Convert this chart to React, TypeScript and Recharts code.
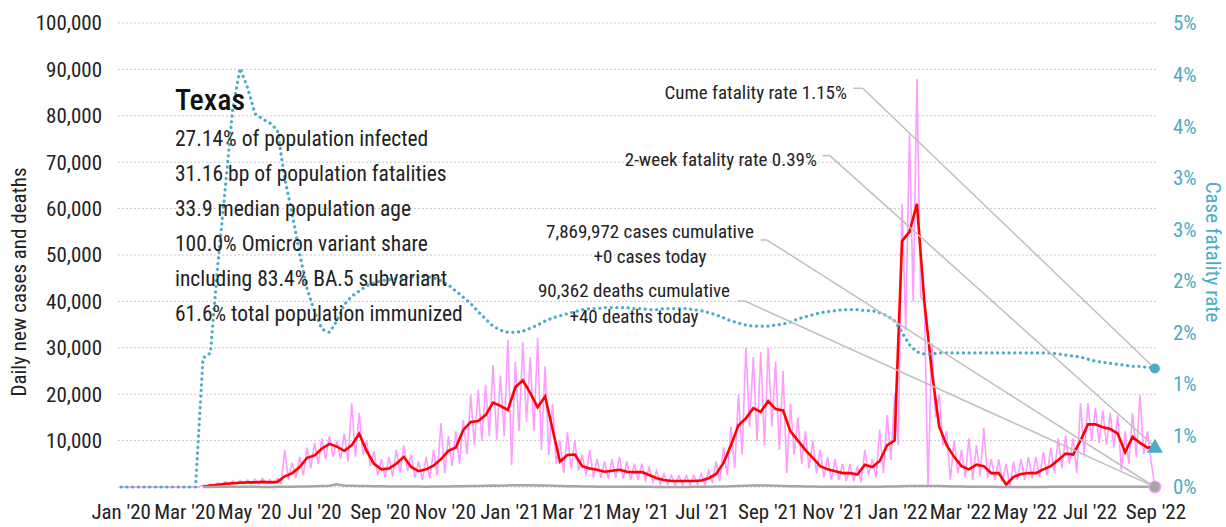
import { CartesianGrid, Line, LineChart, ReferenceDot, ReferenceLine, XAxis, YAxis } from "recharts";

const FONT = "'Liberation Sans Narrow', 'Arial Narrow', 'Roboto Condensed', 'DejaVu Sans Condensed', sans-serif";
const PINK = "#ff9cff";
const RED = "#ff0000";
const GREY = "#a6a6a6";
const TEAL = "#4bacc6";
const LINK = "#bfbfbf";

// days since Jan 1 2020
const xTickDays = [0, 60, 121, 182, 244, 305, 366, 425, 486, 547, 609, 670, 731, 790, 851, 912, 974];
const xTickLabels = [
    "Jan '20", "Mar '20", "May '20", "Jul '20", "Sep '20", "Nov '20",
    "Jan '21", "Mar '21", "May '21", "Jul '21", "Sep '21", "Nov '21",
    "Jan '22", "Mar '22", "May '22", "Jul '22", "Sep '22",
];
const caseTicks = [0, 10000, 20000, 30000, 40000, 50000, 60000, 70000, 80000, 90000, 100000];
const cfrTicks = [0, 0.5, 1, 1.5, 2, 2.5, 3, 3.5, 4, 4.5];

// case fatality rate (%), one value per week from Jan 1 2020
const cfrWeekly = [
    0, 0, 0, 0, 0, 0, 0, 0, 0, 0, 0,
    1.25, 1.3, 2.16, 2.9, 3.67, 4.06, 3.87, 3.62, 3.57, 3.53,
    3.46, 2.99, 2.65, 2.26, 1.92, 1.7, 1.53, 1.5, 1.61, 1.77,
    1.85, 1.9, 1.95, 1.98, 2.0, 2.01, 2.02, 2.03, 2.04, 2.04,
    2.04, 2.03, 2.0, 1.96, 1.9, 1.84, 1.78, 1.7, 1.63, 1.56,
    1.52, 1.5, 1.5, 1.51, 1.54, 1.57, 1.61, 1.64, 1.66, 1.68,
    1.7, 1.72, 1.73, 1.73, 1.74, 1.74, 1.74, 1.74, 1.73, 1.73,
    1.72, 1.72, 1.73, 1.73, 1.73, 1.73, 1.72, 1.71, 1.69, 1.67,
    1.64, 1.61, 1.59, 1.57, 1.56, 1.56, 1.56, 1.57, 1.58, 1.6,
    1.63, 1.65, 1.67, 1.69, 1.7, 1.71, 1.72, 1.72, 1.72, 1.71,
    1.71, 1.69, 1.66, 1.61, 1.5, 1.38, 1.31, 1.29, 1.29, 1.3,
    1.3, 1.3, 1.3, 1.3, 1.3, 1.3, 1.3, 1.3, 1.3, 1.3,
    1.3, 1.3, 1.3, 1.3, 1.3, 1.29, 1.28, 1.27, 1.26, 1.24,
    1.22, 1.21, 1.2, 1.19, 1.18, 1.17, 1.17, 1.16, 1.16, 1.15,
];

// 7-day average of new cases, weekly, starting at week 11
const avgStartWeek = 11;
const avgCasesWeekly = [
    100, 300, 500, 700, 800, 900, 1000, 1000, 1100, 1000, 1100,
    2300, 3000, 4300, 6300, 6800, 8300, 9300, 8700, 7800, 9000,
    11500, 7800, 5000, 3800, 4000, 5000, 6500, 4300, 3400, 3800,
    4600, 6000, 7800, 8500, 12300, 14000, 14200, 15500, 18200, 17500,
    16600, 21500, 23000, 20300, 17200, 19500, 12500, 5500, 6900, 7000,
    4500, 4000, 3700, 3300, 3500, 3700, 3300, 3200, 3200, 2600,
    1900, 1500, 1300, 1300, 1300, 1300, 1400, 1900, 2800, 5200,
    9000, 13300, 14800, 17000, 16200, 18500, 16800, 16500, 12000, 10000,
    8000, 6300, 4500, 3800, 3400, 3000, 3000, 2700, 4800, 4300,
    5600, 9000, 10000, 53000, 55000, 61000, 40000, 25000, 13000, 9000,
    6500, 4500, 3800, 4800, 4500, 3000, 3000, 500, 2200, 2800,
    3000, 3000, 3800, 4500, 5800, 7200, 7000, 10000, 13500, 13500,
    12900, 12500, 11500, 7500, 10800, 9500, 8500, 8600,
];

// daily deaths, weekly readings, starting at week 11
const deathsWeekly = [
    5, 15, 30, 40, 45, 40, 35, 30, 25, 25, 30,
    40, 60, 90, 130, 160, 200, 250, 600, 280, 250,
    220, 200, 180, 150, 130, 110, 100, 90, 90, 80,
    90, 100, 120, 150, 170, 200, 220, 250, 300, 280,
    350, 380, 400, 380, 350, 300, 250, 200, 180, 150,
    120, 100, 80, 70, 60, 50, 45, 40, 35, 30,
    25, 20, 20, 20, 25, 30, 40, 60, 90, 130,
    180, 240, 280, 300, 320, 300, 260, 220, 180, 140,
    110, 90, 70, 60, 50, 45, 45, 50, 60, 70,
    80, 90, 120, 150, 200, 220, 240, 230, 200, 160,
    120, 90, 70, 50, 40, 30, 25, 20, 20, 20,
    20, 20, 25, 30, 35, 40, 45, 50, 55, 55,
    55, 50, 50, 45, 45, 40, 40, 40,
];

// daily new cases, every 3.5 days from Jan 1 2020
const dailyCases = [
    0, 0, 0, 0, 0, 0, 0, 0, 0, 0, 0, 0, 0, 0, 0, 0, 0, 0, 0, 0, 0, 0,
    400, 100, 600, 200, 900, 300, 1100, 500, 1300, 600, 1400, 700, 1500, 700,
    1700, 600, 1800, 800, 1600, 700, 1900, 800, 8000, 1500, 5200, 2000, 6500, 2500,
    8500, 4000, 9500, 5000, 10500, 6000, 11000, 6500, 10000, 6000, 11500, 5500,
    18100, 6500, 16000, 7000, 10000, 4500, 7700, 2500, 6000, 2000, 6500, 2200,
    8000, 3000, 9000, 3500, 7000, 2000, 5500, 1500, 6500, 1800, 8000, 2500,
    13800, 3000, 11000, 4500, 12000, 5000, 14400, 7000, 19800, 9000, 21000, 10000,
    22000, 11000, 26300, 10100, 24000, 11000, 31700, 4700, 27000, 12000, 31200, 14000,
    28000, 12000, 32100, 8000, 26000, 6900, 18000, 5000, 10000, 3000, 11800, 4000,
    10000, 3500, 7000, 2500, 8000, 2000, 6000, 2000, 5500, 1800, 6000, 2000,
    6500, 1800, 5500, 1500, 5000, 1500, 5000, 1500, 4200, 1000, 3500, 600,
    2800, 500, 2500, 400, 2400, 500, 2500, 400, 2500, 500, 2800, 500,
    3500, 800, 5500, 1200, 8500, 2500, 13000, 4000, 20000, 7000, 30000, 13000,
    28000, 10000, 29100, 9000, 30000, 13000, 27000, 8000, 25000, 3000, 18000, 7000,
    15000, 5000, 12000, 4000, 10000, 3000, 8000, 2000, 6500, 1500, 6000, 1500,
    5000, 1300, 5000, 1200, 4500, 1000, 8000, 2500, 6000, 2000, 12300, 3000,
    15500, 5800, 20000, 9000, 61000, 34000, 76000, 40000, 88000, 41000, 40000, 0,
    31000, 15000, 20000, 9000, 12000, 1500, 10000, 3000, 8000, 2000, 10500, 1500,
    9000, 2500, 12700, 2000, 6000, 1500, 6000, 1200, 5000, 0, 5500, 1500,
    6000, 1500, 6500, 1800, 6500, 2000, 7500, 2500, 8500, 3000, 10500, 4000,
    11000, 5000, 10500, 3000, 18100, 7000, 18100, 10000, 17000, 9500, 16500, 9000,
    16000, 8500, 15500, 3700, 12000, 5000, 15900, 6500, 19800, 7000, 12000, 5500,
    0,
];

const lastDay = 973;
const cumeCfr = 1.15;
const twoWeekCfr = 0.39;
const casesToday = 0;
const deathsToday = 40;

const statLines = [
    "27.14% of population infected",
    "31.16 bp of population fatalities",
    "33.9 median population age",
    "100.0% Omicron variant share",
    "including 83.4% BA.5 subvariant",
    "61.6% total population immunized",
];

const cfrData = cfrWeekly.map((v, k) => ({ day: k * 7, v }));
const avgData = avgCasesWeekly.map((v, i) => ({ day: (i + avgStartWeek) * 7, v }));
const deathsData = deathsWeekly.map((v, i) => ({ day: (i + avgStartWeek) * 7, v }));
const dailyData = dailyCases.map((v, j) => ({ day: j * 3.5, v }));

// annotation leader lines: label end -> short flat run -> marker
const links = [
    { axis: "cfr", x0: 689, x1: 698, y: 3.867, to: cumeCfr },
    { axis: "cfr", x0: 660, x1: 667, y: 3.214, to: twoWeekCfr },
    { axis: "left", x0: 602, x1: 608, y: 53230, to: casesToday },
    { axis: "left", x0: 580, x1: 587, y: 40080, to: deathsToday },
];

const Triangle = (p: any) => (
    <polygon points={`${p.cx},${p.cy - 8} ${p.cx + 8},${p.cy + 6} ${p.cx - 8},${p.cy + 6}`} fill={TEAL} />
);

export default function App() {
    const tickStyle = { fill: "#222", fontSize: 21, fontFamily: FONT };
    const note = { fontSize: 19, fill: "#222" };
    return (
        <div style={{ position: "absolute", left: 0, top: 0, width: 1226, height: 527, background: "#fff" }}>
            <LineChart width={1226} height={527} margin={{ top: 23, right: 0, bottom: 0, left: 0 }}>
                <CartesianGrid yAxisId="left" vertical={false} stroke="#c8c8c8" strokeDasharray="2 2" />
                <XAxis
                    dataKey="day"
                    type="number"
                    scale="linear"
                    domain={[-3, 975]}
                    allowDataOverflow
                    ticks={xTickDays}
                    tickFormatter={(v) => xTickLabels[xTickDays.indexOf(v)]}
                    axisLine={false}
                    tickLine={false}
                    tickSize={0}
                    tickMargin={17}
                    height={40}
                    interval={0}
                    tick={tickStyle}
                />
                <YAxis
                    yAxisId="left"
                    domain={[0, 100000]}
                    ticks={caseTicks}
                    tickFormatter={(v) => (v === 0 ? "" : Number(v).toLocaleString("en-US"))}
                    axisLine={false}
                    tickLine={false}
                    tickSize={0}
                    tickMargin={16}
                    width={118}
                    interval={0}
                    tick={tickStyle}
                />
                <YAxis
                    yAxisId="cfr"
                    orientation="right"
                    domain={[0, 4.5]}
                    ticks={cfrTicks}
                    tickFormatter={(v) => `${Number(v).toFixed(0)}%`}
                    axisLine={false}
                    tickLine={false}
                    tickSize={0}
                    tickMargin={16}
                    width={69}
                    interval={0}
                    tick={{ ...tickStyle, fill: TEAL }}
                />
                <Line yAxisId="left" data={dailyData} dataKey="v" type="linear" stroke={PINK} strokeWidth={1.6} dot={false} isAnimationActive={false} />
                <Line yAxisId="left" data={avgData} dataKey="v" type="linear" stroke={RED} strokeWidth={2.6} dot={false} isAnimationActive={false} />
                <Line yAxisId="left" data={deathsData} dataKey="v" type="linear" stroke={GREY} strokeWidth={2.5} dot={false} isAnimationActive={false} />
                <Line
                    yAxisId="cfr"
                    data={cfrData}
                    dataKey="v"
                    type="linear"
                    stroke={TEAL}
                    strokeWidth={3.2}
                    strokeDasharray="0.1 5.6"
                    strokeLinecap="round"
                    dot={false}
                    isAnimationActive={false}
                />
                {links.map((l, i) => (
                    <ReferenceLine
                        key={`h${i}`}
                        yAxisId={l.axis}
                        segment={[{ x: l.x0, y: l.y }, { x: l.x1, y: l.y }]}
                        stroke={LINK}
                        strokeWidth={1.5}
                    />
                ))}
                {links.map((l, i) => (
                    <ReferenceLine
                        key={`d${i}`}
                        yAxisId={l.axis}
                        segment={[{ x: l.x1, y: l.y }, { x: lastDay, y: l.to }]}
                        stroke={LINK}
                        strokeWidth={1.5}
                    />
                ))}
                <ReferenceDot yAxisId="cfr" x={lastDay} y={cumeCfr} r={5} fill={TEAL} stroke="none" />
                <ReferenceDot yAxisId="cfr" x={lastDay} y={twoWeekCfr} shape={Triangle} />
                <ReferenceDot yAxisId="left" x={lastDay} y={casesToday} r={6.5} fill={PINK} stroke="none" />
                <ReferenceDot yAxisId="left" x={lastDay} y={deathsToday} r={5} fill={GREY} stroke="none" />
            </LineChart>
            <svg width={1226} height={527} style={{ position: "absolute", left: 0, top: 0, pointerEvents: "none", fontFamily: FONT }}>
                <text x={175} y={110} fontSize={30} fontWeight={500} fill="#111">Texas</text>
                {statLines.map((s, i) => (
                    <text key={s} x={175} y={146 + i * 34.9} fontSize={21.5} fill="#222">{s}</text>
                ))}
                <text x={847} y={99} textAnchor="end" {...note}>Cume fatality rate 1.15%</text>
                <text x={817} y={166} textAnchor="end" {...note}>2-week fatality rate 0.39%</text>
                <text x={650} y={238} textAnchor="middle" {...note}>7,869,972 cases cumulative</text>
                <text x={650} y={263} textAnchor="middle" {...note}>+0 cases today</text>
                <text x={634} y={297} textAnchor="middle" {...note}>90,362 deaths cumulative</text>
                <text x={634} y={323} textAnchor="middle" {...note}>+40 deaths today</text>
                <text x={19} y={282} fontSize={21} fill="#222" textAnchor="middle" dominantBaseline="central" transform="rotate(-90 19 282)">
                    Daily new cases and deaths
                </text>
                <text x={1213} y={252} fontSize={21} fill={TEAL} textAnchor="middle" dominantBaseline="central" transform="rotate(90 1213 252)">
                    Case fatality rate
                </text>
            </svg>
        </div>
    );
}
